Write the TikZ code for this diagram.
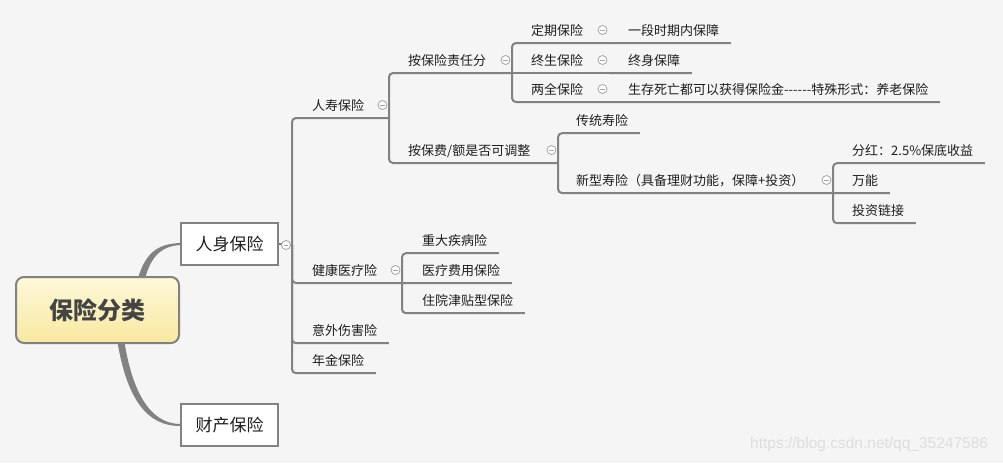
\documentclass[tikz,border=0pt]{standalone}
\usepackage{fontspec}
\setmainfont{Noto Sans CJK SC}
\newfontfamily\wmfont{Liberation Sans}
\usetikzlibrary{calc,backgrounds}
\definecolor{bgcol}{RGB}{245,245,245}
\definecolor{linegray}{RGB}{130,130,130}
\definecolor{foldgray}{RGB}{165,165,165}
\definecolor{txtcol}{RGB}{30,30,30}
\definecolor{roottxt}{RGB}{68,68,68}
\definecolor{rtop}{RGB}{253,248,218}
\definecolor{rbot}{RGB}{248,233,160}
\definecolor{wmcol}{RGB}{222,222,222}
\newcommand\tx{11.5pt}

\begin{document}
\begin{tikzpicture}[x=1pt,y=-1pt,
		link/.style={draw=linegray,line width=2pt,rounded corners=4pt},
		topic/.style={anchor=base west,inner sep=0pt,text depth=7.5pt,text=txtcol,font=\fontsize{13}{15}\selectfont},
		fold/.style={circle,draw=foldgray,fill=white,line width=.8pt,minimum size=9pt,inner sep=0pt,
			path picture={\draw[foldgray,line width=.8pt] ([xshift=2.3pt]path picture bounding box.west) -- ([xshift=-2.3pt]path picture bounding box.east);}},
		mainbox/.style={rectangle,draw=linegray,fill=white,line width=2pt,minimum width=97pt,minimum height=42pt,text=txtcol,font=\fontsize{17}{20}\selectfont},
		branch/.style={fill=linegray}]
		\useasboundingbox (0,0) rectangle (1003,463);
		% root and first level
		\node(root)[rectangle,rounded corners=8pt,draw=linegray,line width=2pt,top color=rtop,bottom color=rbot,minimum width=163pt,minimum height=66pt,text=roottxt,font=\fontsize{24}{28}\selectfont\bfseries] at (97.5,310) {保险分类};
		\node(rensh)[mainbox] at (229.5,244) {人身保险};
		\node(caich)[mainbox] at (229.5,425) {财产保险};
		\begin{scope}[on background layer]
			\fill[bgcol] (0,0) rectangle (1003,463);
			\fill[branch] ($(root.north)+(39,8)$) .. controls (144,253) and (157,244) .. ([yshift=1pt]rensh.west)
				-- ([yshift=-1pt]rensh.west) .. controls (160,246.5) and (150,257) .. ($(root.north)+(46,8)$) -- cycle;
			\fill[branch] ($(root.south)+(19,-8)$) .. controls (125,392) and (143,426) .. ([yshift=-1pt]caich.west)
				-- ([yshift=1pt]caich.west) .. controls (148,423.5) and (131,388) .. ($(root.south)+(26,-8)$) -- cycle;
		\end{scope}
		% second level
		\node(rs)[topic] at (312,110.5) {人寿保险};
		\node(jk)[topic] at (312,275.5) {健康医疗险};
		\node(yw)[topic] at (312,335.5) {意外伤害险};
		\node(nj)[topic] at (312,365.5) {年金保险};
		% third level
		\node(az)[topic] at (408,65.5) {按保险责任分};
		\node(ab)[topic] at (408,155.5) {按保费/额是否可调整};
		\node(zd)[topic] at (422,245.5) {重大疾病险};
		\node(yl)[topic] at (422,275.5) {医疗费用保险};
		\node(zy)[topic] at (422,305.5) {住院津贴型保险};
		% fourth level
		\node(dq)[topic] at (531,35.5) {定期保险};
		\node(zs)[topic] at (531,65.5) {终生保险};
		\node(lq)[topic] at (531,94.5) {两全保险};
		\node(ct)[topic] at (576,125.5) {传统寿险};
		\node(xx)[topic] at (576,185.5) {新型寿险（具备理财功能，保障+投资）};
		\node(dq1)[topic] at (628,35.5) {一段时期内保障};
		\node(zs1)[topic] at (628,65.5) {终身保障};
		\node(lq1)[topic] at (628,94.5) {生存死亡都可以获得保险金-{}-{}-{}-{}-{}-特殊形式：养老保险};
		\node(fh)[topic] at (852,155.5) {分红：2.5\%保底收益};
		\node(wn)[topic] at (852,185.5) {万能};
		\node(tz)[topic] at (852,215.5) {投资链接};
		% bracket points
		\coordinate(b0) at (292,245);
		\coordinate(rs-b) at (389,118);
		\coordinate(jk-b) at (402,283);
		\coordinate(az-b) at (512,73);
		\coordinate(ab-b) at (558,163);
		\coordinate(dq-b) at (609,43);
		\coordinate(zs-b) at (609,73);
		\coordinate(lq-b) at (609,102);
		\coordinate(xx-b) at (833,193);
		% connectors
		\draw[link] (rensh.east) -- (b0);
		\draw[link] (b0) |- (rs-b);
		\draw[link] (b0) |- (jk-b);
		\draw[link] (b0) |- ([xshift=\tx]yw.south east);
		\draw[link] (b0) |- ([xshift=\tx]nj.south east);
		\draw[link] (rs-b) |- (az-b);
		\draw[link] (rs-b) |- (ab-b);
		\draw[link] (jk-b) |- ([xshift=\tx]zd.south east);
		\draw[link] (jk-b) -- ([xshift=\tx]yl.south east);
		\draw[link] (jk-b) |- ([xshift=\tx]zy.south east);
		\draw[link] (az-b) |- (dq-b);
		\draw[link] (az-b) -- (zs-b);
		\draw[link] (az-b) |- (lq-b);
		\draw[link] (dq-b) -- ([xshift=\tx]dq1.south east);
		\draw[link] (zs-b) -- ([xshift=\tx]zs1.south east);
		\draw[link] (lq-b) -- ([xshift=\tx]lq1.south east);
		\draw[link] (ab-b) |- ([xshift=\tx]ct.south east);
		\draw[link] (ab-b) |- (xx-b);
		\draw[link] (xx-b) |- ([xshift=\tx]fh.south east);
		\draw[link] (xx-b) -- ([xshift=\tx]wn.south east);
		\draw[link] (xx-b) |- ([xshift=\tx]tz.south east);
		% fold buttons
		\node(rensh-f)[fold] at (286,245) {};
		\node(rs-f)[fold] at (382.5,105) {};
		\node(jk-f)[fold] at (395.5,270) {};
		\node(az-f)[fold] at (505.5,60) {};
		\node(ab-f)[fold] at (551.5,150) {};
		\node(dq-f)[fold] at (602.5,30) {};
		\node(zs-f)[fold] at (602.5,60) {};
		\node(lq-f)[fold] at (602.5,89) {};
		\node(xx-f)[fold] at (826.5,180) {};
		\node(wm)[anchor=west,inner sep=0pt,text=wmcol,font=\wmfont\fontsize{15.5}{17}\selectfont] at (750,444) {https://blog.csdn.net/qq\_35247586};
	\end{tikzpicture}
\end{document}
